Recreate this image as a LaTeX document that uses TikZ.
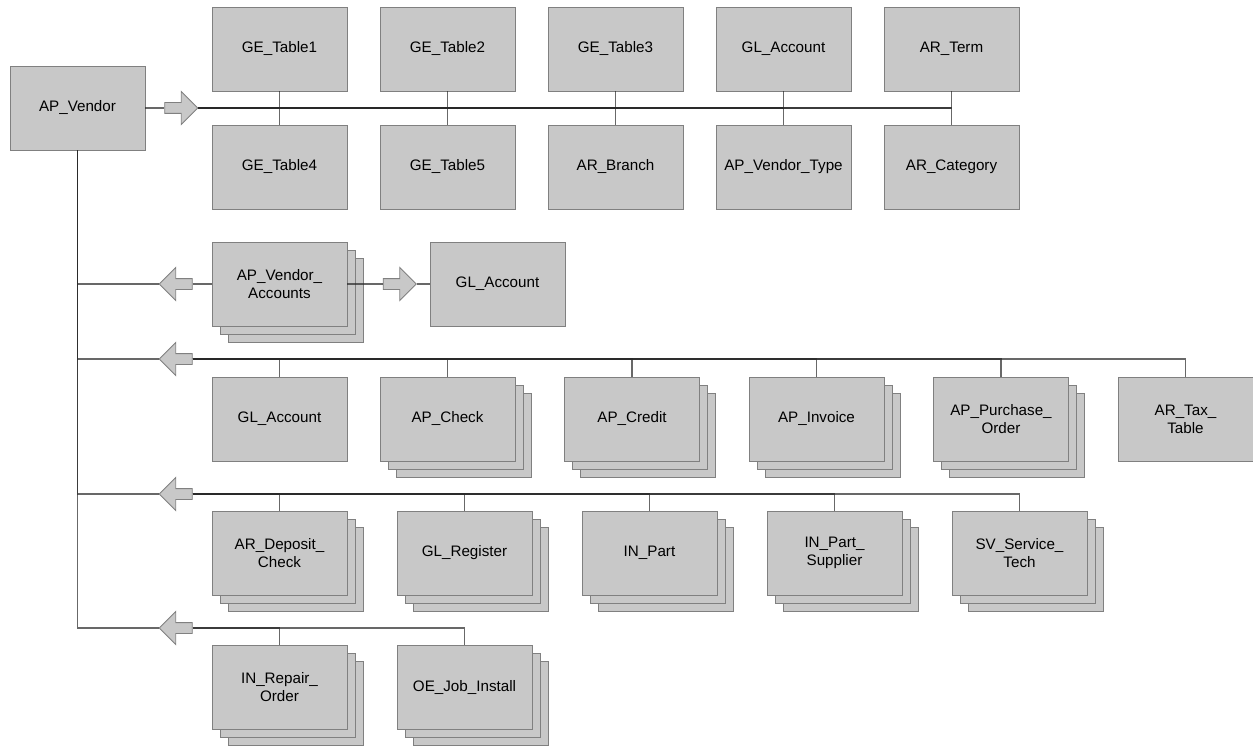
\documentclass[tikz,border=0pt]{standalone}
\usepackage{fontspec}
\setmainfont{Liberation Sans}
\usetikzlibrary{shapes.arrows,shadows}
\definecolor{tablefill}{RGB}{200,200,200}
\definecolor{tableline}{RGB}{128,128,128}
\definecolor{linkline}{RGB}{40,40,40}
\begin{document}
\begin{tikzpicture}
[x=1pt, y=-1pt, node distance=168pt, font=\fontsize{15.2}{18}\selectfont]
\tikzstyle{table}=[rectangle, draw=tableline, fill=tablefill, line width=0.9pt, minimum width=135pt, minimum height=84pt, inner sep=2pt, align=center]
\tikzstyle{tables}=[table, double copy shadow={shadow xshift=8pt, shadow yshift=-8pt, draw=tableline, fill=tablefill, line width=0.9pt}]
\tikzstyle{block}=[single arrow, draw=tableline, fill=tablefill, line width=0.9pt, inner xsep=0pt, inner ysep=5pt, minimum height=33pt, single arrow head extend=11pt, single arrow tip angle=90]
\tikzstyle{blockleft}=[block, shape border rotate=180]
\tikzstyle{link}=[draw=linkline, draw opacity=0.7, line width=1.1pt]
\useasboundingbox (0,0) rectangle (1253,749);

\node[table]	(vendor)	at (77.5,108)	{AP\_Vendor};

\node[table]	(ge1)	at (279.5,49)	{GE\_Table1};
\node[table]	(ge2)		[right of=ge1]	{GE\_Table2};
\node[table]	(ge3)		[right of=ge2]	{GE\_Table3};
\node[table]	(glacct1)	[right of=ge3]	{GL\_Account};
\node[table]	(term)		[right of=glacct1]	{AR\_Term};
\node[table]	(ge4)		[below of=ge1, node distance=118pt]	{GE\_Table4};
\node[table]	(ge5)		[right of=ge4]	{GE\_Table5};
\node[table]	(branch)	[right of=ge5]	{AR\_Branch};
\node[table]	(vtype)		[right of=branch]	{AP\_Vendor\_Type};
\node[table]	(category)	[right of=vtype]	{AR\_Category};

\node[tables]	(accts)	at (279.5,284)	{AP\_Vendor\_\\Accounts};
\node[table]	(glacct2)	[node distance=218pt, right of=accts]	{GL\_Account};

\node[table]	(glacct3)	at (279.5,419)	{GL\_Account};
\node[tables]	(check)		[right of=glacct3]	{AP\_Check};
\node[tables]	(credit)	[node distance=184.5pt, right of=check]	{AP\_Credit};
\node[tables]	(invoice)	[node distance=184.5pt, right of=credit]	{AP\_Invoice};
\node[tables]	(purchase)	[node distance=184.5pt, right of=invoice]	{AP\_Purchase\_\\Order};
\node[table]	(taxtable)	[node distance=184.5pt, right of=purchase]	{AR\_Tax\_\\Table};

\node[tables]	(deposit)	at (279.5,553)	{AR\_Deposit\_\\Check};
\node[tables]	(register)	[node distance=185pt, right of=deposit]	{GL\_Register};
\node[tables]	(part)		[node distance=185pt, right of=register]	{IN\_Part};
\node[tables]	(supplier)	[node distance=185pt, right of=part]	{IN\_Part\_\\Supplier};
\node[tables]	(tech)		[node distance=185pt, right of=supplier]	{SV\_Service\_\\Tech};

\node[tables]	(repair)	at (279.5,687)	{IN\_Repair\_\\Order};
\node[tables]	(install)	[node distance=185pt, right of=repair]	{OE\_Job\_Install};

\node[block]	(refarr)	at (178.5,108)	{};
\node[blockleft]	(acctarr)	at (178.5,284)	{};
\node[block]	(glarr)		at (397,284)	{};
\node[blockleft]	(docarr)	at (178.5,359)	{};
\node[blockleft]	(stockarr)	at (178.5,494)	{};
\node[blockleft]	(jobarr)	at (178.5,628)	{};

\draw[link]	(vendor) -- (refarr.tail);
\foreach \t in {ge1,ge2,ge3,glacct1,term}
  \draw[link]	(refarr.tip) -| (\t.south);
\foreach \t in {ge4,ge5,branch,vtype,category}
  \draw[link]	(refarr.tip) -| (\t.north);

\draw[link]	(vendor.south) |- (acctarr.tip);
\draw[link]	(acctarr.tail) -- (accts);
\draw[link]	(accts) -- (glarr.tail);
\draw[link]	(glarr.tip) -- (glacct2);

\draw[link]	(vendor.south) |- (docarr.tip);
\foreach \t in {glacct3,check,credit,invoice,purchase,taxtable}
  \draw[link]	(docarr.tail) -| (\t.north);

\draw[link]	(vendor.south) |- (stockarr.tip);
\foreach \t in {deposit,register,part,supplier,tech}
  \draw[link]	(stockarr.tail) -| (\t.north);

\draw[link]	(vendor.south) |- (jobarr.tip);
\foreach \t in {repair,install}
  \draw[link]	(jobarr.tail) -| (\t.north);
\end{tikzpicture}
\end{document}
